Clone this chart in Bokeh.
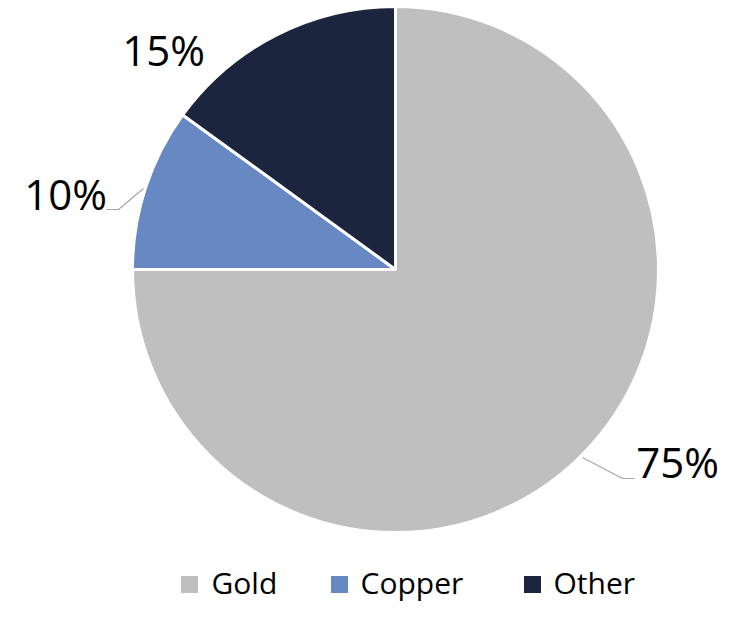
from bokeh.plotting import figure
from bokeh.models import Range1d, ColumnDataSource
from bokeh.core.properties import value
from bokeh.embed import file_html
from bokeh.resources import INLINE
import math

categories = ["Gold", "Copper", "Other"]
shares = [75, 10, 15]
pct_labels = ["75%", "10%", "15%"]
colors = ["#BFBFBF", "#6788C2", "#1B253E"]

W, H = 728, 605
FONT = "Open Sans"

def fy(py):
    # canvas pixel y (from top) -> data y
    return H - py

def fx(px):
    return px

p = figure(width=W, height=H, output_backend="svg", toolbar_location=None,
           x_range=Range1d(0, W), y_range=Range1d(0, H), min_border=0)
p.axis.visible = False
p.grid.visible = False
p.outline_line_color = None

total = sum(shares)
cum = 0.0
starts, ends = [], []
for s in shares:
    starts.append(math.pi / 2 - 2 * math.pi * cum / total)
    cum += s
    ends.append(math.pi / 2 - 2 * math.pi * cum / total)

cx, cy, r = fx(395), fy(269), 263
src = ColumnDataSource(dict(start=starts, end=ends, color=colors,
                            x=[cx] * 3, y=[cy] * 3))
p.wedge(x="x", y="y", radius=r, start_angle="start", end_angle="end",
        direction="clock", fill_color="color", line_color="white",
        line_width=3, source=src)

# leader lines
p.line(x=[fx(143), fx(118), fx(106)], y=[fy(188), fy(209), fy(209)],
       line_color="#A6A6A6", line_width=1.2)
p.line(x=[fx(582), fx(622), fx(634)], y=[fy(457), fy(478), fy(478)],
       line_color="#A6A6A6", line_width=1.2)

# percentage labels (visual centre of the digits)
lx = [fx(677), fx(65), fx(163)]
ly = [fy(460.5), fy(192.5), fy(49)]
p.text(x=lx, y=ly, text=pct_labels, text_font=value(FONT),
       text_font_size="42px", text_align="center", text_baseline="middle",
       text_color="black")

# legend
LEG_MID = 582
sq_x = [fx(189), fx(339), fx(532)]
tx = [fx(211), fx(360), fx(553)]
p.rect(x=sq_x, y=[fy(LEG_MID + 2)] * 3, width=17, height=17,
       fill_color=colors, line_color=None)
p.text(x=tx, y=[fy(LEG_MID)] * 3, text=categories, text_font=value(FONT),
       text_font_size="30px", text_align="left", text_baseline="middle",
       text_color="black")

open("out.html", "w").write(file_html(p, INLINE))
